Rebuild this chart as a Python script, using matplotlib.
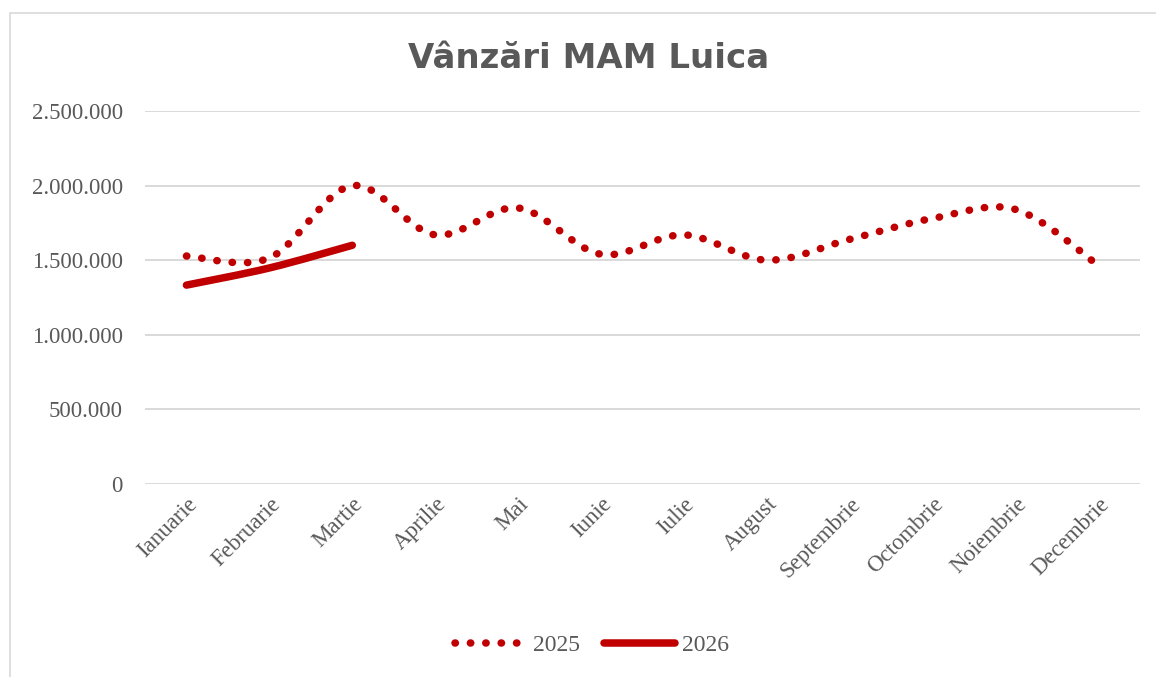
import matplotlib.pyplot as plt
from matplotlib.path import Path
from matplotlib.patches import PathPatch, Rectangle
from matplotlib.lines import Line2D
from matplotlib.transforms import ScaledTranslation
import numpy as np


MONTHS = ['Ianuarie', 'Februarie', 'Martie', 'Aprilie', 'Mai', 'Iunie',
          'Iulie', 'August', 'Septembrie', 'Octombrie', 'Noiembrie',
          'Decembrie']
SALES_2025 = [1528000, 1515000, 2000000, 1670000, 1850000, 1540000,
              1670000, 1500000, 1640000, 1780000, 1840000, 1465000]
SALES_2026 = [1333000, 1448000, 1600000]
Y_TICKS = [0, 500000, 1000000, 1500000, 2000000, 2500000]

RED = '#c00000'
GREY = '#595959'
SERIF = 'Liberation Serif'


def smooth_path(xs, ys, tension=1 / 6):
    # Excel-style smoothed line: cubic Bezier segments through the points
    xs = np.asarray(xs, float)
    ys = np.asarray(ys, float)
    n = len(xs)
    verts = [(xs[0], ys[0])]
    codes = [Path.MOVETO]
    for i in range(n - 1):
        p0 = i - 1 if i > 0 else i
        p3 = i + 2 if i + 2 < n else i + 1
        c1 = (xs[i] + (xs[i + 1] - xs[p0]) * tension,
              ys[i] + (ys[i + 1] - ys[p0]) * tension)
        c2 = (xs[i + 1] - (xs[p3] - xs[i]) * tension,
              ys[i + 1] - (ys[p3] - ys[i]) * tension)
        verts += [c1, c2, (xs[i + 1], ys[i + 1])]
        codes += [Path.CURVE4] * 3
    return Path(verts, codes)


fig = plt.figure(figsize=(11.56, 6.77), dpi=100)
fig.patches.append(Rectangle((10 / 1156, -0.01), 1.1, 1 - 13 / 677 + 0.01,
                             transform=fig.transFigure, fill=False,
                             edgecolor='#d9d9d9', linewidth=1.2))

ax = fig.add_axes([145 / 1156, 1 - 484 / 677, 995 / 1156, 373 / 677])
x = np.arange(len(MONTHS))

DOT_LW = 5.4
DOT_STYLE = (0, (0.05, 2.0))
LINE_LW = 5.4

ax.add_patch(PathPatch(smooth_path(x, SALES_2025), fill=False,
                       edgecolor=RED, linewidth=DOT_LW,
                       linestyle=DOT_STYLE, capstyle='round'))
ax.add_patch(PathPatch(smooth_path(x[:len(SALES_2026)], SALES_2026),
                       fill=False, edgecolor=RED, linewidth=LINE_LW,
                       capstyle='round', joinstyle='round'))

ax.set_xlim(-0.5, len(MONTHS) - 0.5)
ax.set_ylim(0, 2500000)
ax.set_yticks(Y_TICKS)
ax.set_yticklabels([f'{v:,}'.replace(',', '.') for v in Y_TICKS],
                   fontfamily=SERIF, fontsize=16.5, color=GREY)
ax.set_xticks(x)
ax.set_xticklabels(MONTHS, rotation=45, ha='right', rotation_mode='anchor',
                   fontfamily=SERIF, fontsize=16.5, color=GREY)
# nudge the slanted month names a little to the left, like the original
shift = ScaledTranslation(-6 / 72, 0, fig.dpi_scale_trans)
for lbl in ax.get_xticklabels():
    lbl.set_transform(lbl.get_transform() + shift)
ax.tick_params(axis='both', length=0)
ax.tick_params(axis='y', pad=16)
ax.tick_params(axis='x', pad=7)
ax.grid(axis='y', color='#d9d9d9', linewidth=1.4)
ax.set_axisbelow(True)
for s in ax.spines.values():
    s.set_visible(False)

fig.text(589 / 1156, 1 - 58 / 677, 'Vânzări MAM Luica', ha='center',
         va='center', fontsize=24.5, fontweight='bold', color=GREY,
         fontfamily='DejaVu Sans')

handles = [Line2D([], [], color=RED, linewidth=DOT_LW, linestyle=DOT_STYLE,
                  dash_capstyle='round'),
           Line2D([], [], color=RED, linewidth=LINE_LW,
                  solid_capstyle='round')]
fig.legend(handles, ['2025', '2026'], loc='center',
           bbox_to_anchor=(592 / 1156, 1 - 645 / 677), ncol=2, frameon=False,
           prop={'family': SERIF, 'size': 17}, labelcolor=GREY,
           handlelength=3.0, handletextpad=0.3, columnspacing=1.0)

fig.savefig('out.png', dpi=100)
